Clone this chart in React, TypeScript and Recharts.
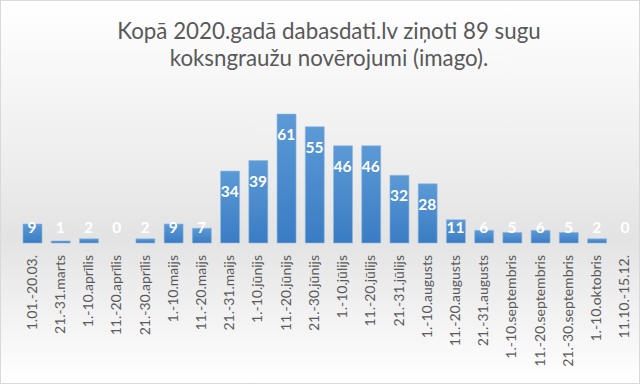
import React from "react";
import { ComposedChart, Bar, Line, XAxis, YAxis } from "recharts";

const periods = [
  "1.01.-20.03.",
  "21.-31.marts",
  "1.-10.aprīlis",
  "11.-20.aprīlis",
  "21.-30.aprīlis",
  "1.-10.maijs",
  "11.-20.maijs",
  "21.-31.maijs",
  "1.-10.jūnijs",
  "11.-20.jūnijs",
  "21.-30.jūnijs",
  "1.-10.jūlijs",
  "11.-20.jūlijs",
  "21.-31.jūlijs",
  "1.-10.augusts",
  "11.-20.augusts",
  "21.-31.augusts",
  "1.-10.septembris",
  "11.-20.septembris",
  "21.-30.septembris",
  "1.-10.oktobris",
  "11.10.-15.12.",
];

const counts = [9, 1, 2, 0, 2, 9, 7, 34, 39, 61, 55, 46, 46, 32, 28, 11, 6, 5, 6, 5, 2, 0];

const data = periods.map((p, i) => ({ period: p, count: counts[i] }));

const FONT = "Lato, 'Open Sans', sans-serif";
const BASELINE = 243;

function RotatedTick(props: any) {
  const { x, y, payload } = props;
  return (
    <text
      x={0}
      y={0}
      transform={`translate(${x + 4.5},${y + 4}) rotate(-90)`}
      textAnchor="end"
      fill="#595959"
      fontSize={14}
      fontFamily={FONT}
    >
      {payload.value}
    </text>
  );
}

// value labels sit inside the bar top, or just above the axis when the bar is too short
function ValueLabel(props: any) {
  const { x, y, value } = props;
  const cy = Math.min(y + 20, BASELINE - 16);
  return (
    <text
      x={x}
      y={cy}
      textAnchor="middle"
      dominantBaseline="central"
      fill="#ffffff"
      fontSize={15.5}
      fontWeight="bold"
      fontFamily={FONT}
    >
      {value}
    </text>
  );
}

export default function App() {
  return (
    <div
      style={{
        position: "fixed",
        left: 0,
        top: 0,
        width: 638,
        height: 382,
        border: "1px solid #d9d9d9",
        background:
          "linear-gradient(180deg, #ffffff 0%, #ececec 45%, #e3e3e3 62%, #f4f4f4 85%, #ffffff 100%)",
        overflow: "hidden",
      }}
    >
      <div
        style={{
          position: "absolute",
          top: 16,
          left: 0,
          width: 656,
          textAlign: "center",
          fontFamily: FONT,
          fontSize: 22.3,
          lineHeight: "27px",
          color: "#595959",
          whiteSpace: "nowrap",
        }}
      >
        Kopā 2020.gadā dabasdati.lv ziņoti 89 sugu
        <br />
        koksngraužu novērojumi (imago).
      </div>
      <ComposedChart
        width={640}
        height={384}
        data={data}
        margin={{ top: 95, right: 1, left: 18, bottom: 0 }}
        barSize={19}
        style={{ position: "absolute", left: -1, top: -1 }}
      >
        <defs>
          <linearGradient id="barFill" x1="0" y1="0" x2="0" y2="1">
            <stop offset="0%" stopColor="#5c9ad6" />
            <stop offset="100%" stopColor="#3a7cc4" />
          </linearGradient>
        </defs>
        <XAxis
          dataKey="period"
          interval={0}
          height={141}
          axisLine={false}
          tickLine={false}
          tick={<RotatedTick />}
        />
        <YAxis hide domain={[0, 70]} />
        <Bar
          dataKey="count"
          fill="url(#barFill)"
          stroke="#8fb8e3"
          strokeWidth={0.6}
          isAnimationActive={false}
        />
        <Line
          dataKey="count"
          stroke="none"
          dot={false}
          activeDot={false}
          isAnimationActive={false}
          label={<ValueLabel />}
        />
      </ComposedChart>
    </div>
  );
}
